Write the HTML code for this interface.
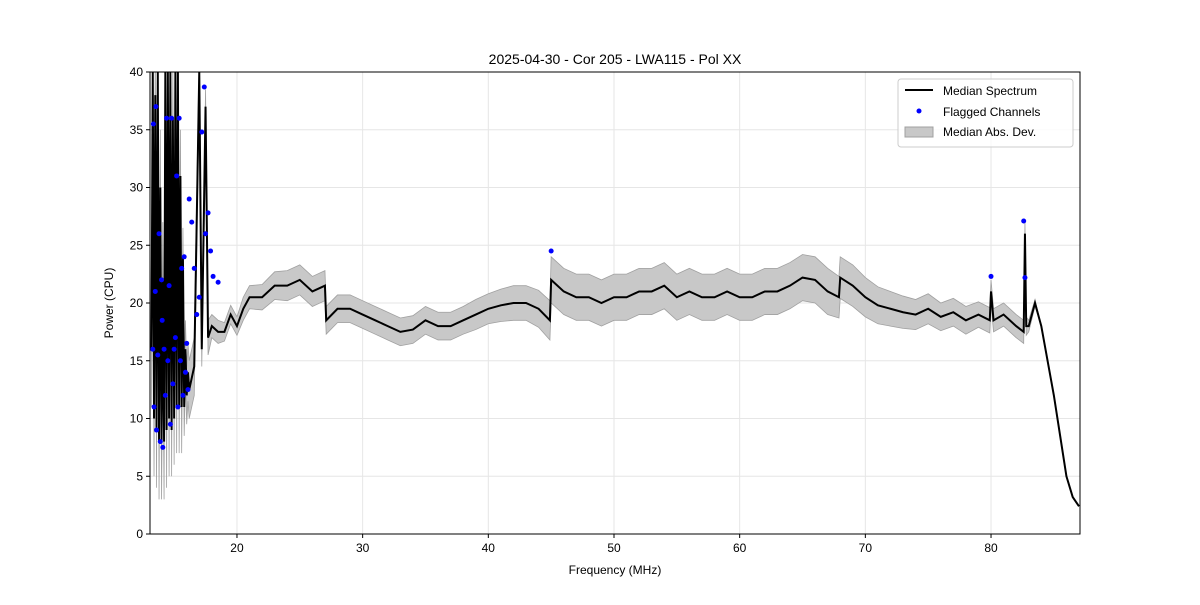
<!DOCTYPE html>
<html><head><meta charset="utf-8"><style>
body{margin:0;background:#fff;font-family:"Liberation Sans",sans-serif}
svg text{font-family:"Liberation Sans",sans-serif}
</style></head><body>
<svg id="c" width="1200" height="600" xmlns="http://www.w3.org/2000/svg"></svg>
<script>
const freqs=[13.2,13.3,13.4,13.5,13.6,13.7,13.8,13.9,14.0,14.1,14.2,14.3,14.4,14.5,14.6,14.7,14.8,14.9,15.0,15.1,15.2,15.3,15.4,15.5,15.6,15.7,15.8,15.9,16.0,16.1,16.2,16.3,16.4,16.5,16.6,17.0,17.2,17.5,17.7,18,18.5,19,19.5,20,20.5,21,22,23,24,25,26,27,27.1,28,29,30,31,32,33,34,35,36,37,38,39,40,41,42,43,44,44.9,45,46,47,48,49,50,51,52,53,54,55,56,57,58,59,60,61,62,63,64,65,66,67,67.9,68,69,70,71,72,73,74,75,76,77,78,79,79.9,80,80.2,81,82,82.6,82.7,82.8,83,83.5,84,85,85.5,86,86.5,87];
const median=[16,40,10,38,9,40,8,30,8,22,8,40,9,40,10,40,9,36,10,40,11,40,11,31,11,24,11,16,12,14,12.5,13,13.5,14,14.5,40,16,37,17,18,17.5,17.5,19,18,19.5,20.5,20.5,21.5,21.5,22,21,21.5,18.5,19.5,19.5,19,18.5,18,17.5,17.7,18.5,18,18,18.5,19,19.5,19.8,20,20,19.5,18.5,22,21,20.5,20.5,20,20.5,20.5,21,21,21.5,20.5,21,20.5,20.5,21,20.5,20.5,21,21,21.5,22.2,22,21,20.5,22.2,21.5,20.5,19.8,19.5,19.2,19,19.5,18.8,19.2,18.5,19,18.5,21,18.5,19,18,17.5,26,18,18,20,18,12,8.5,5,3.2,2.4];
const mad=[5,5,5,5,5,5,5,5,5,5,5,5,5,5,5,4,4,4,4,4,4,4,4,4,4,2.5,2.5,2.5,2.5,2.5,2.5,2.5,2.5,2.5,2.5,2,1.5,1.5,1.5,1,1,0.8,0.8,0.8,1,1,1.1,1.2,1.3,1.3,1.3,1.3,1.2,1.2,1.2,1.2,1.2,1.2,1.2,1.2,1.2,1.2,1.2,1.2,1.3,1.3,1.4,1.5,1.5,1.6,1.7,2,2,2,2,2,2,2,2,2,2,2,2,2,2,2,2,2,2,2,2,2,2,2,1.8,1.8,1.8,1.7,1.6,1.5,1.4,1.3,1.3,1.2,1.2,1.2,1.1,1.1,1,1,1,1,1,1,0.8,0.5,0.3,0,0,0,0,0,0];
const flagFreq=[13.3,13.35,13.4,13.5,13.55,13.6,13.7,13.8,13.9,14,14.05,14.1,14.2,14.3,14.4,14.5,14.6,14.7,14.8,14.9,15,15.1,15.2,15.3,15.4,15.5,15.6,15.7,15.8,15.9,16,16.1,16.2,16.4,16.6,16.8,17,17.2,17.4,17.5,17.7,17.9,18.1,18.5,45,80,82.6,82.7];
const flagVal=[16,35.5,11,21,37,9,15.5,26,8,22,18.5,7.5,16,12,36,15,21.5,9.5,36,13,16,17,31,11,36,15,23,12,24,14,16.5,12.5,29,27,23,19,20.5,34.8,38.7,26,27.8,24.5,22.3,21.8,24.5,22.3,27.1,22.2];
const xTicks=[20,30,40,50,60,70,80];
const yTicks=[0,5,10,15,20,25,30,35,40];
const L=150,R=1080,T=72,B=534;
const X=f=>L+(f-13.08)/(87.08-13.08)*(R-L);
const Y=v=>B-v/40*(B-T);
const svg=document.getElementById('c');const NS='http://www.w3.org/2000/svg';
function el(t,a,p){const e=document.createElementNS(NS,t);for(const k in a)e.setAttribute(k,a[k]);(p||svg).appendChild(e);return e;}
const defs=el('defs',{});const cp=el('clipPath',{id:'clip'},defs);el('rect',{x:L,y:T,width:R-L,height:B-T},cp);
xTicks.forEach(t=>{const g=el('line',{x1:X(t),x2:X(t),y1:T,y2:B,stroke:'#e6e6e6','stroke-width':1});

});
yTicks.forEach(t=>{const g=el('line',{x1:L,x2:R,y1:Y(t),y2:Y(t),stroke:'#e6e6e6','stroke-width':1});

});
const gp=el('g',{'clip-path':'url(#clip)'});
let up=freqs.map((f,i)=>X(f)+','+Y(median[i]+mad[i]));
let dn=freqs.map((f,i)=>X(f)+','+Y(median[i]-mad[i])).reverse();
const band=el('polygon',{points:up.concat(dn).join(' '),fill:'#c8c8c8',stroke:'#a0a0a0','stroke-width':0.8},gp);


const line=el('polyline',{points:freqs.map((f,i)=>X(f)+','+Y(median[i])).join(' '),fill:'none',stroke:'#000','stroke-width':2},gp);


flagFreq.forEach((f,i)=>{const c=el('circle',{cx:X(f),cy:Y(flagVal[i]),r:2.5,fill:'#0000ff'},gp);

});
const fr=el('rect',{x:L,y:T,width:R-L,height:B-T,fill:'none',stroke:'#000','stroke-width':1});


xTicks.forEach(t=>{el('line',{x1:X(t),x2:X(t),y1:B,y2:B+4,stroke:'#000'});
const tx=el('text',{x:X(t),y:B+18,'text-anchor':'middle','font-size':12});tx.textContent=t;

});
yTicks.forEach(t=>{el('line',{x1:L-4,x2:L,y1:Y(t),y2:Y(t),stroke:'#000'});
const tx=el('text',{x:L-7,y:Y(t)+4,'text-anchor':'end','font-size':12});tx.textContent=t;

});
</script>
<svg width="1200" height="600" style="position:absolute;left:0;top:0">
<text x="615" y="64" text-anchor="middle" font-size="14">2025-04-30 - Cor 205 - LWA115 - Pol XX</text>
<text x="615" y="574" text-anchor="middle" font-size="12">Frequency (MHz)</text>
<text x="113" y="303" text-anchor="middle" font-size="12" transform="rotate(-90 113 303)">Power (CPU)</text>
<g>
<rect x="898" y="79" width="175" height="68" rx="3" fill="#fff" fill-opacity="0.8" stroke="#ccc"/>
<line x1="905" y1="90" x2="933" y2="90" stroke="#000" stroke-width="2"/>
<text x="943" y="95" font-size="12">Median Spectrum</text>
<circle cx="919" cy="111" r="2.5" fill="#0000ff"/>
<text x="943" y="116" font-size="12">Flagged Channels</text>
<rect x="905" y="127" width="28" height="10" fill="#c8c8c8" stroke="#a0a0a0"/>
<text x="943" y="136" font-size="12">Median Abs. Dev.</text>
</g>
</svg>
</body></html>
